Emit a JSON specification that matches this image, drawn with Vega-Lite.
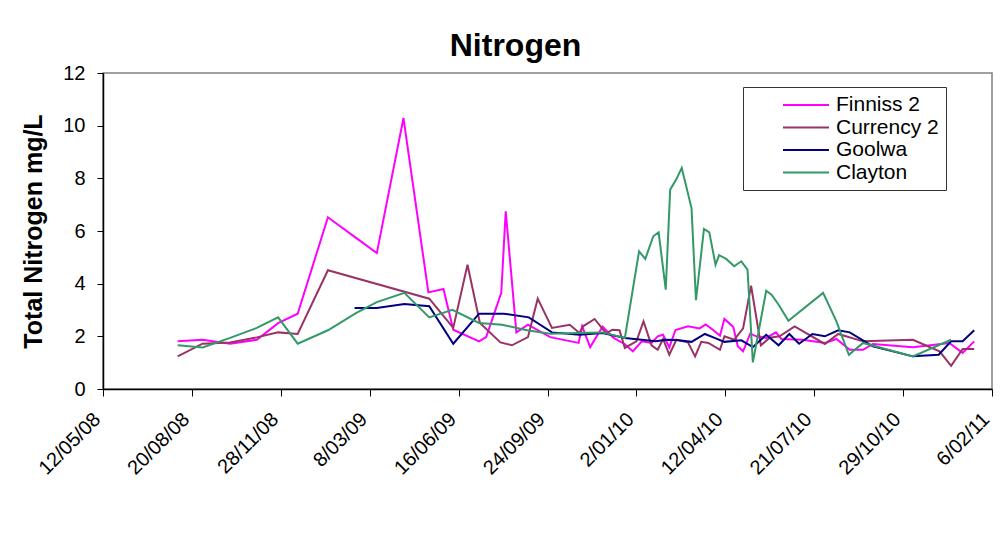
{
  "$schema": "https://vega.github.io/schema/vega-lite/v6.json",
  "width": 889,
  "height": 316,
  "autosize": {"type": "none"},
  "padding": {"left": 103, "top": 73, "right": 13, "bottom": 165},
  "background": "white",
  "title": {"text": "Nitrogen", "font": "Liberation Sans", "fontSize": 32, "fontWeight": "bold", "color": "black", "anchor": "middle", "frame": "group", "dx": -32, "offset": 0},
  "config": {"view": {"stroke": "#808080", "strokeWidth": 1.5}, "font": "Liberation Sans"},
  "data": {"values": [
    {"site": "Finniss 2", "date": "2008-08-04", "value": 1.81},
    {"site": "Finniss 2", "date": "2008-09-01", "value": 1.87},
    {"site": "Finniss 2", "date": "2008-10-02", "value": 1.72},
    {"site": "Finniss 2", "date": "2008-11-01", "value": 1.87},
    {"site": "Finniss 2", "date": "2008-11-25", "value": 2.5},
    {"site": "Finniss 2", "date": "2008-12-17", "value": 2.86},
    {"site": "Finniss 2", "date": "2009-01-20", "value": 6.52},
    {"site": "Finniss 2", "date": "2009-02-21", "value": 5.73},
    {"site": "Finniss 2", "date": "2009-03-16", "value": 5.16},
    {"site": "Finniss 2", "date": "2009-04-15", "value": 10.29},
    {"site": "Finniss 2", "date": "2009-05-13", "value": 3.67},
    {"site": "Finniss 2", "date": "2009-05-30", "value": 3.8},
    {"site": "Finniss 2", "date": "2009-06-10", "value": 2.25},
    {"site": "Finniss 2", "date": "2009-07-09", "value": 1.81},
    {"site": "Finniss 2", "date": "2009-07-17", "value": 1.97},
    {"site": "Finniss 2", "date": "2009-08-03", "value": 3.65},
    {"site": "Finniss 2", "date": "2009-08-08", "value": 6.75},
    {"site": "Finniss 2", "date": "2009-08-20", "value": 2.15},
    {"site": "Finniss 2", "date": "2009-09-02", "value": 2.44},
    {"site": "Finniss 2", "date": "2009-09-27", "value": 1.97},
    {"site": "Finniss 2", "date": "2009-10-29", "value": 1.75},
    {"site": "Finniss 2", "date": "2009-11-02", "value": 2.38},
    {"site": "Finniss 2", "date": "2009-11-11", "value": 1.59},
    {"site": "Finniss 2", "date": "2009-11-25", "value": 2.37},
    {"site": "Finniss 2", "date": "2009-12-07", "value": 1.95},
    {"site": "Finniss 2", "date": "2009-12-20", "value": 1.7},
    {"site": "Finniss 2", "date": "2009-12-29", "value": 1.43},
    {"site": "Finniss 2", "date": "2010-01-08", "value": 1.81},
    {"site": "Finniss 2", "date": "2010-01-19", "value": 1.75},
    {"site": "Finniss 2", "date": "2010-01-26", "value": 2.0},
    {"site": "Finniss 2", "date": "2010-02-01", "value": 2.06},
    {"site": "Finniss 2", "date": "2010-02-08", "value": 1.58},
    {"site": "Finniss 2", "date": "2010-02-15", "value": 2.24},
    {"site": "Finniss 2", "date": "2010-03-01", "value": 2.38},
    {"site": "Finniss 2", "date": "2010-03-14", "value": 2.3},
    {"site": "Finniss 2", "date": "2010-03-21", "value": 2.45},
    {"site": "Finniss 2", "date": "2010-03-29", "value": 2.25},
    {"site": "Finniss 2", "date": "2010-04-06", "value": 2.02},
    {"site": "Finniss 2", "date": "2010-04-11", "value": 2.66},
    {"site": "Finniss 2", "date": "2010-04-21", "value": 2.35},
    {"site": "Finniss 2", "date": "2010-04-26", "value": 1.62},
    {"site": "Finniss 2", "date": "2010-05-02", "value": 1.43},
    {"site": "Finniss 2", "date": "2010-05-10", "value": 2.1},
    {"site": "Finniss 2", "date": "2010-05-17", "value": 2.0},
    {"site": "Finniss 2", "date": "2010-05-28", "value": 1.94},
    {"site": "Finniss 2", "date": "2010-06-08", "value": 2.15},
    {"site": "Finniss 2", "date": "2010-06-14", "value": 1.9},
    {"site": "Finniss 2", "date": "2010-07-08", "value": 1.87},
    {"site": "Finniss 2", "date": "2010-08-02", "value": 1.75},
    {"site": "Finniss 2", "date": "2010-08-15", "value": 1.9},
    {"site": "Finniss 2", "date": "2010-08-30", "value": 1.49},
    {"site": "Finniss 2", "date": "2010-09-14", "value": 1.49},
    {"site": "Finniss 2", "date": "2010-09-25", "value": 1.71},
    {"site": "Finniss 2", "date": "2010-11-09", "value": 1.59},
    {"site": "Finniss 2", "date": "2010-12-20", "value": 1.75},
    {"site": "Finniss 2", "date": "2011-01-04", "value": 1.37},
    {"site": "Finniss 2", "date": "2011-01-17", "value": 1.81},

    {"site": "Currency 2", "date": "2008-08-04", "value": 1.24},
    {"site": "Currency 2", "date": "2008-09-01", "value": 1.72},
    {"site": "Currency 2", "date": "2008-10-02", "value": 1.77},
    {"site": "Currency 2", "date": "2008-11-01", "value": 1.96},
    {"site": "Currency 2", "date": "2008-11-25", "value": 2.15},
    {"site": "Currency 2", "date": "2008-12-17", "value": 2.09},
    {"site": "Currency 2", "date": "2009-01-20", "value": 4.51},
    {"site": "Currency 2", "date": "2009-05-14", "value": 3.43},
    {"site": "Currency 2", "date": "2009-06-10", "value": 2.32},
    {"site": "Currency 2", "date": "2009-06-26", "value": 4.72},
    {"site": "Currency 2", "date": "2009-07-10", "value": 2.51},
    {"site": "Currency 2", "date": "2009-08-02", "value": 1.77},
    {"site": "Currency 2", "date": "2009-08-15", "value": 1.66},
    {"site": "Currency 2", "date": "2009-09-02", "value": 1.97},
    {"site": "Currency 2", "date": "2009-09-13", "value": 3.43},
    {"site": "Currency 2", "date": "2009-09-29", "value": 2.32},
    {"site": "Currency 2", "date": "2009-10-19", "value": 2.44},
    {"site": "Currency 2", "date": "2009-10-30", "value": 2.13},
    {"site": "Currency 2", "date": "2009-11-03", "value": 2.38},
    {"site": "Currency 2", "date": "2009-11-16", "value": 2.66},
    {"site": "Currency 2", "date": "2009-11-29", "value": 2.11},
    {"site": "Currency 2", "date": "2009-12-06", "value": 2.25},
    {"site": "Currency 2", "date": "2009-12-14", "value": 2.23},
    {"site": "Currency 2", "date": "2009-12-20", "value": 1.56},
    {"site": "Currency 2", "date": "2010-01-02", "value": 1.81},
    {"site": "Currency 2", "date": "2010-01-10", "value": 2.57},
    {"site": "Currency 2", "date": "2010-01-19", "value": 1.66},
    {"site": "Currency 2", "date": "2010-01-26", "value": 1.49},
    {"site": "Currency 2", "date": "2010-02-01", "value": 1.9},
    {"site": "Currency 2", "date": "2010-02-08", "value": 1.3},
    {"site": "Currency 2", "date": "2010-02-16", "value": 1.87},
    {"site": "Currency 2", "date": "2010-03-01", "value": 1.77},
    {"site": "Currency 2", "date": "2010-03-09", "value": 1.24},
    {"site": "Currency 2", "date": "2010-03-16", "value": 1.79},
    {"site": "Currency 2", "date": "2010-03-24", "value": 1.75},
    {"site": "Currency 2", "date": "2010-04-06", "value": 1.49},
    {"site": "Currency 2", "date": "2010-04-11", "value": 2.0},
    {"site": "Currency 2", "date": "2010-04-22", "value": 1.87},
    {"site": "Currency 2", "date": "2010-05-02", "value": 2.3},
    {"site": "Currency 2", "date": "2010-05-11", "value": 3.92},
    {"site": "Currency 2", "date": "2010-05-22", "value": 1.66},
    {"site": "Currency 2", "date": "2010-06-01", "value": 1.95},
    {"site": "Currency 2", "date": "2010-06-12", "value": 2.0},
    {"site": "Currency 2", "date": "2010-06-29", "value": 2.38},
    {"site": "Currency 2", "date": "2010-08-02", "value": 1.71},
    {"site": "Currency 2", "date": "2010-08-17", "value": 2.09},
    {"site": "Currency 2", "date": "2010-09-14", "value": 1.81},
    {"site": "Currency 2", "date": "2010-11-09", "value": 1.87},
    {"site": "Currency 2", "date": "2010-12-09", "value": 1.43},
    {"site": "Currency 2", "date": "2010-12-22", "value": 0.88},
    {"site": "Currency 2", "date": "2011-01-04", "value": 1.52},
    {"site": "Currency 2", "date": "2011-01-17", "value": 1.52},

    {"site": "Goolwa", "date": "2009-02-19", "value": 3.08},
    {"site": "Goolwa", "date": "2009-03-16", "value": 3.08},
    {"site": "Goolwa", "date": "2009-04-16", "value": 3.23},
    {"site": "Goolwa", "date": "2009-05-14", "value": 3.14},
    {"site": "Goolwa", "date": "2009-06-10", "value": 1.72},
    {"site": "Goolwa", "date": "2009-07-09", "value": 2.86},
    {"site": "Goolwa", "date": "2009-08-06", "value": 2.86},
    {"site": "Goolwa", "date": "2009-09-03", "value": 2.72},
    {"site": "Goolwa", "date": "2009-09-29", "value": 2.15},
    {"site": "Goolwa", "date": "2009-10-30", "value": 2.06},
    {"site": "Goolwa", "date": "2009-11-25", "value": 2.13},
    {"site": "Goolwa", "date": "2009-12-20", "value": 1.94},
    {"site": "Goolwa", "date": "2010-01-24", "value": 1.81},
    {"site": "Goolwa", "date": "2010-02-04", "value": 1.87},
    {"site": "Goolwa", "date": "2010-02-16", "value": 1.86},
    {"site": "Goolwa", "date": "2010-03-05", "value": 1.79},
    {"site": "Goolwa", "date": "2010-03-20", "value": 2.09},
    {"site": "Goolwa", "date": "2010-03-31", "value": 1.94},
    {"site": "Goolwa", "date": "2010-04-11", "value": 1.79},
    {"site": "Goolwa", "date": "2010-04-30", "value": 1.85},
    {"site": "Goolwa", "date": "2010-05-13", "value": 1.59},
    {"site": "Goolwa", "date": "2010-05-28", "value": 2.06},
    {"site": "Goolwa", "date": "2010-06-11", "value": 1.66},
    {"site": "Goolwa", "date": "2010-06-23", "value": 2.09},
    {"site": "Goolwa", "date": "2010-07-04", "value": 1.72},
    {"site": "Goolwa", "date": "2010-07-19", "value": 2.09},
    {"site": "Goolwa", "date": "2010-08-02", "value": 2.0},
    {"site": "Goolwa", "date": "2010-08-17", "value": 2.23},
    {"site": "Goolwa", "date": "2010-08-30", "value": 2.15},
    {"site": "Goolwa", "date": "2010-09-25", "value": 1.62},
    {"site": "Goolwa", "date": "2010-11-09", "value": 1.24},
    {"site": "Goolwa", "date": "2010-12-08", "value": 1.3},
    {"site": "Goolwa", "date": "2010-12-22", "value": 1.81},
    {"site": "Goolwa", "date": "2011-01-04", "value": 1.81},
    {"site": "Goolwa", "date": "2011-01-17", "value": 2.23},

    {"site": "Clayton", "date": "2008-08-04", "value": 1.66},
    {"site": "Clayton", "date": "2008-09-01", "value": 1.58},
    {"site": "Clayton", "date": "2008-10-02", "value": 1.94},
    {"site": "Clayton", "date": "2008-11-01", "value": 2.32},
    {"site": "Clayton", "date": "2008-11-25", "value": 2.72},
    {"site": "Clayton", "date": "2008-12-17", "value": 1.72},
    {"site": "Clayton", "date": "2009-01-20", "value": 2.23},
    {"site": "Clayton", "date": "2009-02-21", "value": 2.89},
    {"site": "Clayton", "date": "2009-03-16", "value": 3.3},
    {"site": "Clayton", "date": "2009-04-16", "value": 3.65},
    {"site": "Clayton", "date": "2009-05-14", "value": 2.72},
    {"site": "Clayton", "date": "2009-06-09", "value": 3.01},
    {"site": "Clayton", "date": "2009-07-09", "value": 2.51},
    {"site": "Clayton", "date": "2009-08-04", "value": 2.44},
    {"site": "Clayton", "date": "2009-09-01", "value": 2.23},
    {"site": "Clayton", "date": "2009-09-27", "value": 2.1},
    {"site": "Clayton", "date": "2009-10-27", "value": 2.13},
    {"site": "Clayton", "date": "2009-11-25", "value": 2.15},
    {"site": "Clayton", "date": "2009-12-20", "value": 1.94},
    {"site": "Clayton", "date": "2010-01-05", "value": 5.23},
    {"site": "Clayton", "date": "2010-01-12", "value": 4.94},
    {"site": "Clayton", "date": "2010-01-21", "value": 5.8},
    {"site": "Clayton", "date": "2010-01-27", "value": 5.95},
    {"site": "Clayton", "date": "2010-02-04", "value": 3.77},
    {"site": "Clayton", "date": "2010-02-09", "value": 7.57},
    {"site": "Clayton", "date": "2010-02-16", "value": 7.97},
    {"site": "Clayton", "date": "2010-02-22", "value": 8.39},
    {"site": "Clayton", "date": "2010-03-05", "value": 6.87},
    {"site": "Clayton", "date": "2010-03-10", "value": 3.37},
    {"site": "Clayton", "date": "2010-03-19", "value": 6.08},
    {"site": "Clayton", "date": "2010-03-25", "value": 5.95},
    {"site": "Clayton", "date": "2010-04-01", "value": 4.72},
    {"site": "Clayton", "date": "2010-04-05", "value": 5.08},
    {"site": "Clayton", "date": "2010-04-13", "value": 4.94},
    {"site": "Clayton", "date": "2010-04-22", "value": 4.66},
    {"site": "Clayton", "date": "2010-04-30", "value": 4.85},
    {"site": "Clayton", "date": "2010-05-07", "value": 4.53},
    {"site": "Clayton", "date": "2010-05-13", "value": 1.01},
    {"site": "Clayton", "date": "2010-05-28", "value": 3.73},
    {"site": "Clayton", "date": "2010-06-03", "value": 3.58},
    {"site": "Clayton", "date": "2010-06-11", "value": 3.2},
    {"site": "Clayton", "date": "2010-06-22", "value": 2.59},
    {"site": "Clayton", "date": "2010-07-31", "value": 3.65},
    {"site": "Clayton", "date": "2010-08-15", "value": 2.57},
    {"site": "Clayton", "date": "2010-08-29", "value": 1.3},
    {"site": "Clayton", "date": "2010-09-14", "value": 1.75},
    {"site": "Clayton", "date": "2010-11-09", "value": 1.24},
    {"site": "Clayton", "date": "2010-12-22", "value": 1.87}
  ]},
  "mark": {"type": "line", "strokeWidth": 2, "clip": true},
  "encoding": {
    "x": {
      "field": "date", "type": "temporal",
      "scale": {"type": "utc", "domain": [{"year": 2008, "month": 5, "date": 12, "utc": true}, {"year": 2011, "month": 2, "date": 6, "utc": true}]},
      "axis": {
        "title": null, "grid": false,
        "values": [
          {"year": 2008, "month": 5, "date": 12, "utc": true},
          {"year": 2008, "month": 8, "date": 20, "utc": true},
          {"year": 2008, "month": 11, "date": 28, "utc": true},
          {"year": 2009, "month": 3, "date": 8, "utc": true},
          {"year": 2009, "month": 6, "date": 16, "utc": true},
          {"year": 2009, "month": 9, "date": 24, "utc": true},
          {"year": 2010, "month": 1, "date": 2, "utc": true},
          {"year": 2010, "month": 4, "date": 12, "utc": true},
          {"year": 2010, "month": 7, "date": 21, "utc": true},
          {"year": 2010, "month": 10, "date": 29, "utc": true},
          {"year": 2011, "month": 2, "date": 6, "utc": true}
        ],
        "labelExpr": "utcFormat(datum.value, '%-d/%m/%y')",
        "labelAngle": -45, "labelAlign": "right", "labelBaseline": "middle",
        "labelFontSize": 20, "labelColor": "black", "labelPadding": 20, "labelOffset": -6,
        "labelOverlap": false, "labelBound": false, "labelFlush": false,
        "tickSize": 7, "tickColor": "black", "domainColor": "black", "domainWidth": 1.5
      }
    },
    "y": {
      "field": "value", "type": "quantitative",
      "scale": {"domain": [0, 12], "nice": false, "zero": true},
      "axis": {
        "title": "Total Nitrogen mg/L", "titleFontSize": 25, "titleFontWeight": "bold", "titleColor": "black", "titlePadding": 16,
        "values": [0, 2, 4, 6, 8, 10, 12], "grid": false,
        "labelFontSize": 20, "labelColor": "black", "labelPadding": 12,
        "tickSize": 6, "tickColor": "black", "domainColor": "black", "domainWidth": 1.5
      }
    },
    "color": {
      "field": "site", "type": "nominal",
      "scale": {"domain": ["Finniss 2", "Currency 2", "Goolwa", "Clayton"], "range": ["#FF00FF", "#993366", "#000080", "#339966"]},
      "legend": {
        "title": null, "orient": "none", "legendX": 640, "legendY": 14,
        "fillColor": "white", "strokeColor": "#333333", "padding": 7,
        "symbolType": "M-2.3,0H2.3", "symbolSize": 400, "symbolStrokeWidth": 2,
        "symbolOffset": 45, "labelOffset": 19,
        "labelFontSize": 21, "labelColor": "black", "rowPadding": 1.5
      }
    }
  }
}
